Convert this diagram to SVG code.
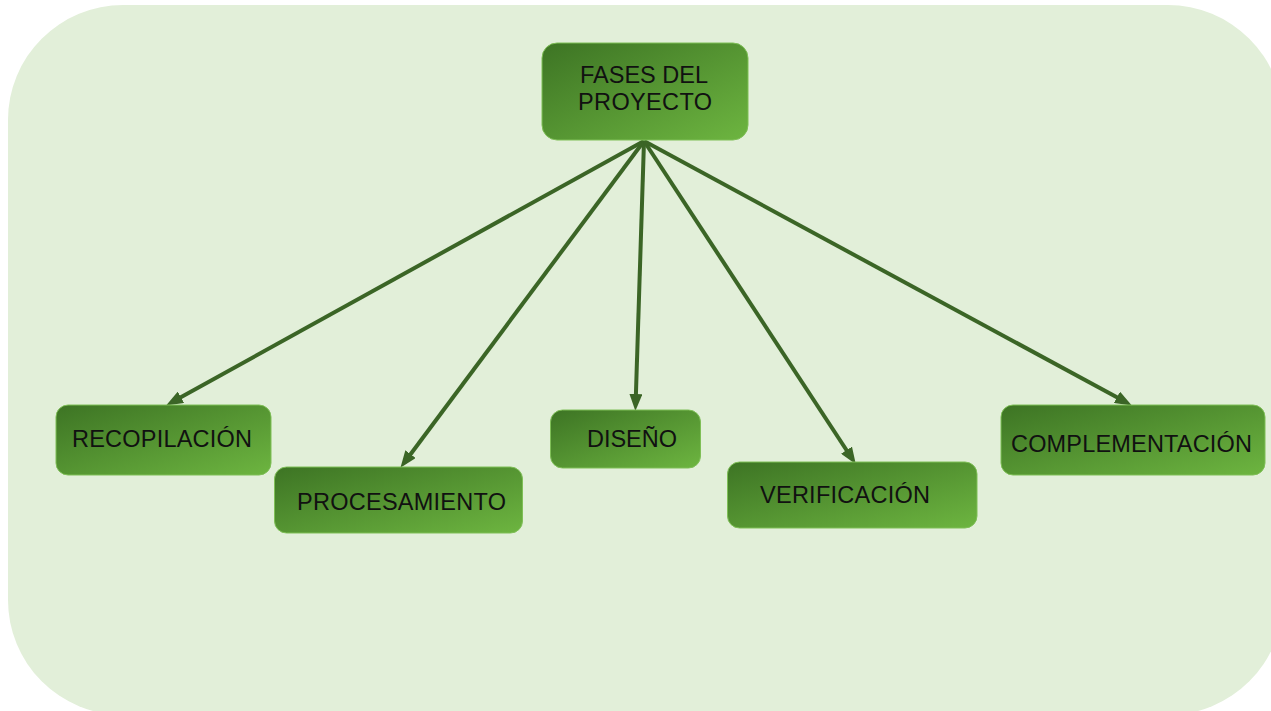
<svg xmlns="http://www.w3.org/2000/svg" width="1271" height="711" viewBox="0 0 1271 711">
  <defs>
    <linearGradient id="g" x1="0" y1="0" x2="1" y2="1">
      <stop offset="0" stop-color="#3d7424"/>
      <stop offset="1" stop-color="#6db540"/>
    </linearGradient>
    <marker id="ah" markerUnits="userSpaceOnUse" markerWidth="17" markerHeight="13" refX="10" refY="6.5" orient="auto">
      <path d="M0,0 L17,6.5 L0,13 z" fill="#3b6526"/>
    </marker>
    <style>
      .box { fill: url(#g); stroke: #7fbf57; stroke-width: 1; }
      .lbl { font-family: "Liberation Sans", Arial, sans-serif; font-size: 23.5px; fill: #111; }
      .edge { stroke: #3b6526; stroke-width: 4; fill: none; marker-end: url(#ah); }
    </style>
  </defs>
  <rect x="8" y="5" width="1275" height="710" rx="115" ry="115" fill="#e2efd9"/>
  <g id="connectors">
    <line class="edge" x1="644" y1="141" x2="172.2" y2="402.1"/>
    <line class="edge" x1="644" y1="141" x2="404.6" y2="462.2"/>
    <line class="edge" x1="644" y1="141" x2="635.6" y2="404"/>
    <line class="edge" x1="644" y1="141" x2="852" y2="458.5"/>
    <line class="edge" x1="644" y1="141" x2="1125.7" y2="402.1"/>
  </g>
  <g id="fases">
    <rect class="box" x="542" y="43" width="206" height="97" rx="15"/>
    <text class="lbl" x="580" y="83" textLength="128">FASES DEL</text>
    <text class="lbl" x="578" y="110" textLength="134">PROYECTO</text>
  </g>
  <g id="recopilacion">
    <rect class="box" x="56" y="405" width="215" height="70" rx="12"/>
    <text class="lbl" x="72" y="447" textLength="180">RECOPILACIÓN</text>
  </g>
  <g id="procesamiento">
    <rect class="box" x="274.5" y="467" width="248" height="66" rx="12"/>
    <text class="lbl" x="297" y="510" textLength="209">PROCESAMIENTO</text>
  </g>
  <g id="diseno">
    <rect class="box" x="550.5" y="410" width="150" height="58" rx="12"/>
    <text class="lbl" x="587" y="447" textLength="90">DISEÑO</text>
  </g>
  <g id="verificacion">
    <rect class="box" x="727.5" y="462" width="249.5" height="66" rx="12"/>
    <text class="lbl" x="760" y="503" textLength="170">VERIFICACIÓN</text>
  </g>
  <g id="complementacion">
    <rect class="box" x="1001" y="405" width="264" height="70" rx="12"/>
    <text class="lbl" x="1011" y="452" textLength="241">COMPLEMENTACIÓN</text>
  </g>
</svg>
